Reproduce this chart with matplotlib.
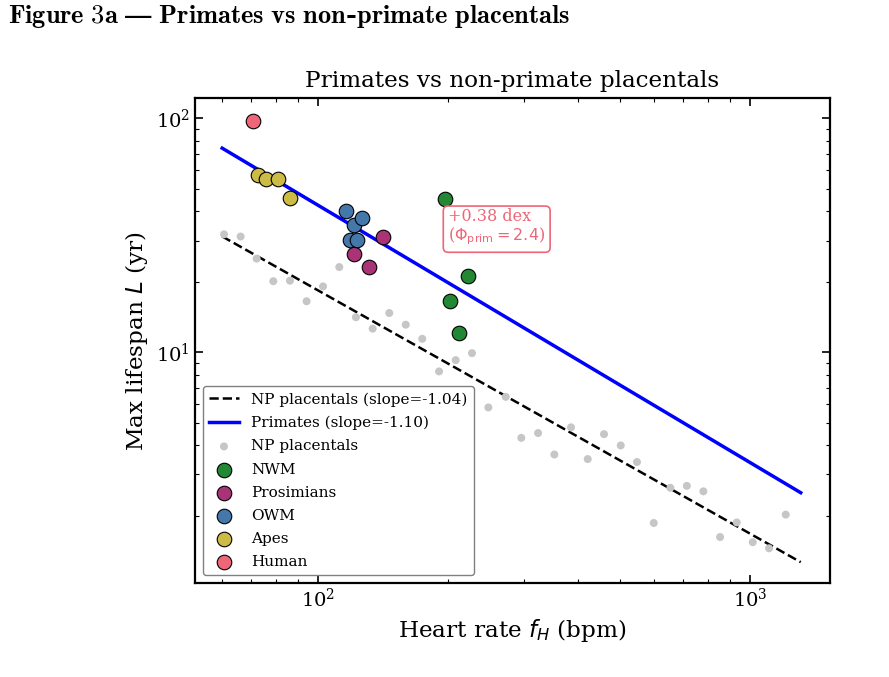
import numpy as np
import matplotlib
matplotlib.use("Agg")
import matplotlib.pyplot as plt

plt.rcParams['font.family'] = 'DejaVu Serif'

# Non-primate placentals (heart rate bpm, max lifespan yr)
np_hr = [60.6, 66.2, 72.1, 78.8, 86.1, 94.1, 102.7, 112.0, 122.4, 133.8,
         146.2, 159.6, 174.3, 190.6, 208.3, 227.2, 247.9, 271.9, 295.5, 323.1,
         352.4, 385.1, 421.0, 459.2, 502.0, 547.4, 598.6, 654.0, 713.9, 779.7,
         852.4, 931.6, 1014.5, 1106.5, 1209.5]
np_life = [31.9, 31.2, 25.1, 20.1, 20.2, 16.5, 19.1, 23.1, 14.1, 12.6,
           14.7, 13.1, 11.4, 8.27, 9.24, 9.90, 5.80, 6.44, 4.30, 4.51,
           3.65, 4.77, 3.49, 4.46, 3.99, 3.39, 1.86, 2.63, 2.68, 2.54,
           1.62, 1.87, 1.54, 1.45, 2.02]

# Primate groups
groups = ['NWM', 'Prosimians', 'OWM', 'Apes', 'Human']
group_colors = ['#228833', '#AA3377', '#4477AA', '#CCBB44', '#EE6677']
group_hr = [
    [196.8, 222.1, 202.1, 212.1],
    [141.2, 121.3, 131.1],
    [116.1, 121.3, 126.2, 118.6, 123.3],
    [72.6, 75.8, 80.9, 86.0],
    [70.7],
]
group_life = [
    [45.1, 21.1, 16.6, 12.1],
    [31.2, 26.2, 23.1],
    [40.3, 35.0, 37.3, 30.1, 30.2],
    [57.2, 55.0, 55.0, 45.4],
    [97.1],
]

# Power-law fits L = A * f^slope
fit_x = [60.0, 1310.0]
np_fit_A, np_fit_slope = 2208.0, -1.04
pr_fit_A, pr_fit_slope = 6730.0, -1.10

fig = plt.figure(figsize=(8.89, 6.77), dpi=100)
ax = fig.add_axes([0.2193, 0.1388, 0.7143, 0.7164])

fx = np.array(fit_x)
ax.plot(fx, np_fit_A * fx**np_fit_slope, 'k--', lw=1.8,
        label='NP placentals (slope=-1.04)')
ax.plot(fx, pr_fit_A * fx**pr_fit_slope, color='blue', lw=2.5,
        label='Primates (slope=-1.10)')
ax.scatter(np_hr, np_life, s=33, color='#c6c6c6', edgecolors='none',
           label='NP placentals', zorder=2)
for name, c, hx, ly in zip(groups, group_colors, group_hr, group_life):
    ax.scatter(hx, ly, s=110, color=c, edgecolors='black', linewidths=0.8,
               label=name, zorder=3)

ax.text(200, 34, '+0.38 dex\n($\\Phi_{\\rm prim}=2.4$)', color='#EE6677',
        fontsize=11.5, ha='left', va='center', linespacing=1.05,
        bbox=dict(boxstyle='round,pad=0.3', fc='white', ec='#EE6677', lw=1.2))

ax.set_xscale('log')
ax.set_yscale('log')
ax.set_xlim(51.9, 1531)
ax.set_ylim(1.03, 122)
ax.set_xlabel('Heart rate $f_H$ (bpm)', fontsize=16.7)
ax.set_ylabel('Max lifespan $L$ (yr)', fontsize=16.7)
ax.set_title('Primates vs non-primate placentals', fontsize=16.7, pad=8)
ax.tick_params(which='both', direction='in', top=True, right=True, labelsize=14)
ax.tick_params(which='major', length=6, width=1.2)
ax.tick_params(which='minor', length=3, width=0.8)
for sp in ax.spines.values():
    sp.set_linewidth(1.6)

leg = ax.legend(loc='lower left', fontsize=11, framealpha=1, edgecolor='gray',
                labelspacing=0.6)

fig.text(0.009, 0.975,
         r'$\mathbf{Figure\ 3a\ —\ Primates\ vs\ non}$-$\mathbf{primate\ placentals}$',
         fontsize=19, fontweight='bold', ha='left', va='center',
         math_fontfamily='cm')

fig.savefig('out.png', dpi=100)
